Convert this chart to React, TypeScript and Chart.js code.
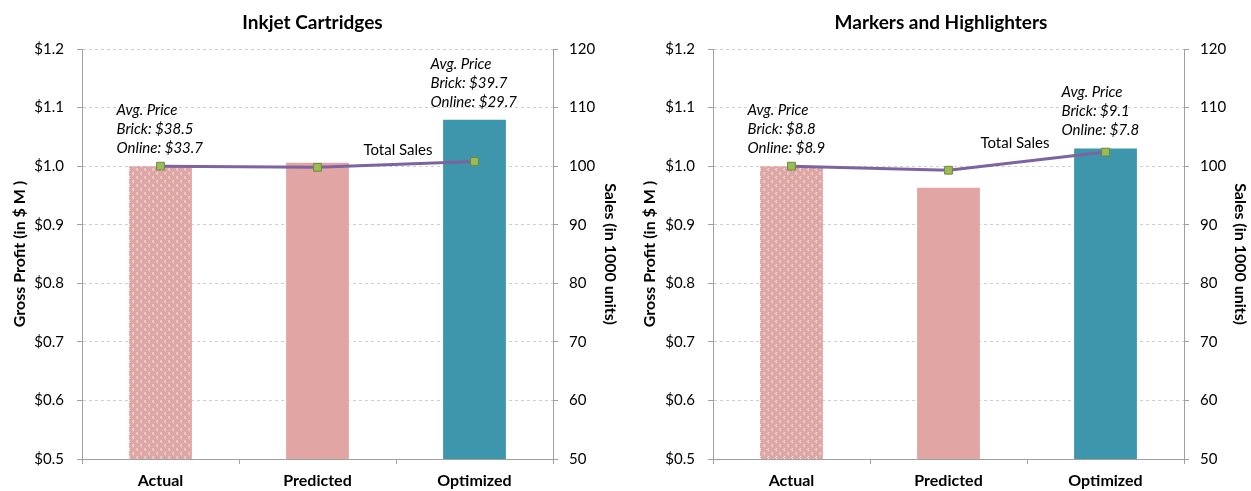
import React, { useEffect, useRef } from "react";
import { Chart, registerables } from "chart.js";

Chart.register(...registerables);

// ---------- data ----------
const categories = ["Actual", "Predicted", "Optimized"];

const inkjetTitle = "Inkjet Cartridges";
const inkjetProfit = [1.0, 1.006, 1.079];
const inkjetSales = [100, 99.8, 100.8];
const inkjetBrick = ["$38.5", "", "$39.7"];
const inkjetOnline = ["$33.7", "", "$29.7"];

const markersTitle = "Markers and Highlighters";
const markersProfit = [1.0, 0.963, 1.03];
const markersSales = [100, 99.3, 102.4];
const markersBrick = ["$8.8", "", "$9.1"];
const markersOnline = ["$8.9", "", "$7.8"];

const profitRange = [0.5, 1.2, 0.1];
const salesRange = [50, 120, 10];

const leftAxisTitle = "Gross Profit (in $ M )";
const rightAxisTitle = "Sales (in 1000 units)";
const lineLabel = "Total Sales";

// ---------- styles ----------
const FONT = "Lato, 'Open Sans', sans-serif";
const PINK = "#E1A6A4";
const TEAL = "#3D96AB";
const PURPLE = "#7D64A0";
const GREEN = "#9BBB59";
const GREEN_DARK = "#6E8B3A";
const AXIS = "#A0A0A0";
const GRID = "#CFCFCF";

function makePattern(): CanvasPattern | string {
  const c = document.createElement("canvas");
  c.width = 8;
  c.height = 8;
  const g = c.getContext("2d");
  if (!g) return PINK;
  g.fillStyle = PINK;
  g.fillRect(0, 0, 8, 8);
  g.fillStyle = "rgba(255,255,255,0.9)";
  const pts = [
    [1, 0], [0, 1], [1, 2],
    [5, 4], [4, 5], [5, 6],
  ];
  pts.forEach(([x, y]) => g.fillRect(x, y, 1, 1));
  return g.createPattern(c, "repeat") || PINK;
}

const annotPlugin = {
  id: "annot",
  afterDatasetsDraw(chart: any, _args: any, opts: any) {
    const ctx = chart.ctx as CanvasRenderingContext2D;
    const lineMeta = chart.getDatasetMeta(0);
    const barMeta = chart.getDatasetMeta(1);
    ctx.save();
    ctx.fillStyle = "#000";
    ctx.textBaseline = "middle";
    ctx.textAlign = "left";
    ctx.font = `italic 15px ${FONT}`;
    (opts.brick as string[]).forEach((b, i) => {
      if (!b) return;
      const bar = barMeta.data[i];
      const pt = lineMeta.data[i];
      const top = Math.min(bar.y, pt.y);
      const x = bar.x - 44;
      const base = top - 18;
      ctx.fillText("Avg. Price", x, base - 38);
      ctx.fillText(`Brick: ${b}`, x, base - 19);
      ctx.fillText(`Online: ${opts.online[i]}`, x, base);
    });
    const p1 = lineMeta.data[1];
    const p2 = lineMeta.data[2];
    ctx.font = `15px ${FONT}`;
    ctx.textAlign = "center";
    ctx.fillText(opts.label, (p1.x + p2.x) / 2 + opts.dx, (p1.y + p2.y) / 2 + opts.dy);
    ctx.restore();
  },
};

interface PanelProps {
  title: string;
  profit: number[];
  sales: number[];
  brick: string[];
  online: string[];
  left: number;
  width: number;
  leftW: number;
  rightW: number;
  leftTitlePad: number;
  rightTitlePad: number;
  dx: number;
  dy: number;
}

function Panel(p: PanelProps) {
  const ref = useRef<HTMLCanvasElement | null>(null);
  useEffect(() => {
    if (!ref.current) return;
    const pattern = makePattern();
    const chart = new Chart(ref.current, {
      type: "bar",
      data: {
        labels: categories,
        datasets: [
          {
            type: "line",
            label: lineLabel,
            data: p.sales,
            yAxisID: "y1",
            borderColor: PURPLE,
            borderWidth: 3,
            pointStyle: "rect",
            pointRadius: 5.5,
            pointBackgroundColor: GREEN,
            pointBorderColor: GREEN_DARK,
            pointBorderWidth: 1,
            tension: 0,
            order: 0,
          } as any,
          {
            type: "bar",
            label: "Gross Profit",
            data: p.profit,
            yAxisID: "y",
            backgroundColor: [pattern, PINK, TEAL] as any,
            barPercentage: 0.4,
            categoryPercentage: 1,
            order: 1,
          } as any,
        ],
      },
      options: {
        animation: false,
        responsive: false,
        maintainAspectRatio: false,
        layout: { padding: 0 },
        plugins: {
          legend: { display: false },
          tooltip: { enabled: false },
          title: {
            display: true,
            text: p.title,
            color: "#000",
            font: { family: FONT, size: 19, weight: "bold", lineHeight: 1.2 },
            padding: { top: 11, bottom: 15.2 },
          },
          annot: { brick: p.brick, online: p.online, label: lineLabel, dx: p.dx, dy: p.dy },
        } as any,
        scales: {
          x: {
            grid: {
              offset: true,
              drawOnChartArea: false,
              drawTicks: true,
              tickLength: 5,
              tickColor: AXIS,
            },
            border: { color: AXIS, width: 1 },
            ticks: {
              color: "#000",
              font: { family: FONT, size: 16, weight: "bold" },
              padding: 7,
            },
            afterFit: (s: any) => {
              s.height = 32;
            },
          },
          y: {
            position: "left",
            min: profitRange[0],
            max: profitRange[1],
            ticks: {
              stepSize: profitRange[2],
              color: "#000",
              font: { family: FONT, size: 15 },
              padding: 13,
              callback: (v: any) => "$" + Number(v).toFixed(1),
            },
            grid: {
              color: GRID,
              lineWidth: 1,
              drawTicks: true,
              tickLength: 5,
              tickColor: AXIS,
              tickBorderDash: [],
            },
            border: { color: AXIS, width: 1, dash: [3, 3] },
            title: {
              display: true,
              text: leftAxisTitle,
              color: "#000",
              font: { family: FONT, size: 16, weight: "bold", lineHeight: 1.2 },
              padding: { top: p.leftTitlePad, bottom: 0 },
            },
            afterFit: (s: any) => {
              s.width = p.leftW;
            },
          },
          y1: {
            position: "right",
            min: salesRange[0],
            max: salesRange[1],
            ticks: {
              stepSize: salesRange[2],
              color: "#000",
              font: { family: FONT, size: 15 },
              padding: 11,
            },
            grid: {
              drawOnChartArea: false,
              drawTicks: true,
              tickLength: 5,
              tickColor: AXIS,
            },
            border: { color: AXIS, width: 1 },
            title: {
              display: true,
              text: rightAxisTitle,
              color: "#000",
              font: { family: FONT, size: 16, weight: "bold", lineHeight: 1.2 },
              padding: { top: p.rightTitlePad, bottom: 0 },
            },
            afterFit: (s: any) => {
              s.width = p.rightW;
            },
          },
        },
      } as any,
      plugins: [annotPlugin as any],
    });
    return () => chart.destroy();
  }, []);
  return (
    <canvas
      ref={ref}
      width={p.width}
      height={491}
      style={{ position: "absolute", left: p.left, top: 0, width: p.width, height: 491 }}
    />
  );
}

export default function App() {
  return (
    <div
      style={{
        position: "fixed",
        left: 0,
        top: 0,
        width: 1251,
        height: 491,
        background: "#fff",
        overflow: "hidden",
      }}
    >
      <Panel
        title={inkjetTitle}
        profit={inkjetProfit}
        sales={inkjetSales}
        brick={inkjetBrick}
        online={inkjetOnline}
        left={0}
        width={625}
        leftW={82}
        rightW={72}
        leftTitlePad={10}
        rightTitlePad={5}
        dx={2}
        dy={-14}
      />
      <Panel
        title={markersTitle}
        profit={markersProfit}
        sales={markersSales}
        brick={markersBrick}
        online={markersOnline}
        left={631}
        width={620}
        leftW={82}
        rightW={67}
        leftTitlePad={9}
        rightTitlePad={1}
        dx={-12}
        dy={-18}
      />
    </div>
  );
}
